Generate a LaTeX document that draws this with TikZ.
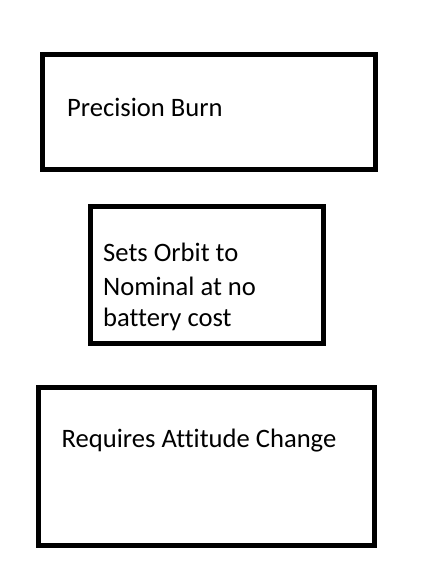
\documentclass[tikz,border=0pt]{standalone}
\usepackage{fontspec}
\setmainfont{Carlito}[Ligatures=CommonOff]
\begin{document}
\begin{tikzpicture}[x=1pt,y=-1pt,
  box/.style={draw=black,line width=5pt,rectangle,inner sep=0pt},
  lbl/.style={anchor=base west,inner sep=0pt,font=\fontsize{26.6}{32}\selectfont}]
\useasboundingbox[fill=white] (0,0) rectangle (429,587);
\node[box,minimum width=333.5pt,minimum height=115pt] (b1) at (208.75,112) {};
\node[box,minimum width=233pt,minimum height=136.5pt] (b2) at (207,274.75) {};
\node[box,minimum width=335.5pt,minimum height=158pt] (b3) at (206.25,466.5) {};
\node[lbl] (t1) at (67,116) {Precision Burn};
\node[lbl] (t2a) at (103,261.7) {Sets Orbit to};
\node[lbl] (t2b) at (103,295) {Nominal at no};
\node[lbl] (t2c) at (103,326.7) {battery cost};
\node[lbl] (t3) at (61.5,447.7) {Requires Attitude Change};
\end{tikzpicture}
\end{document}
